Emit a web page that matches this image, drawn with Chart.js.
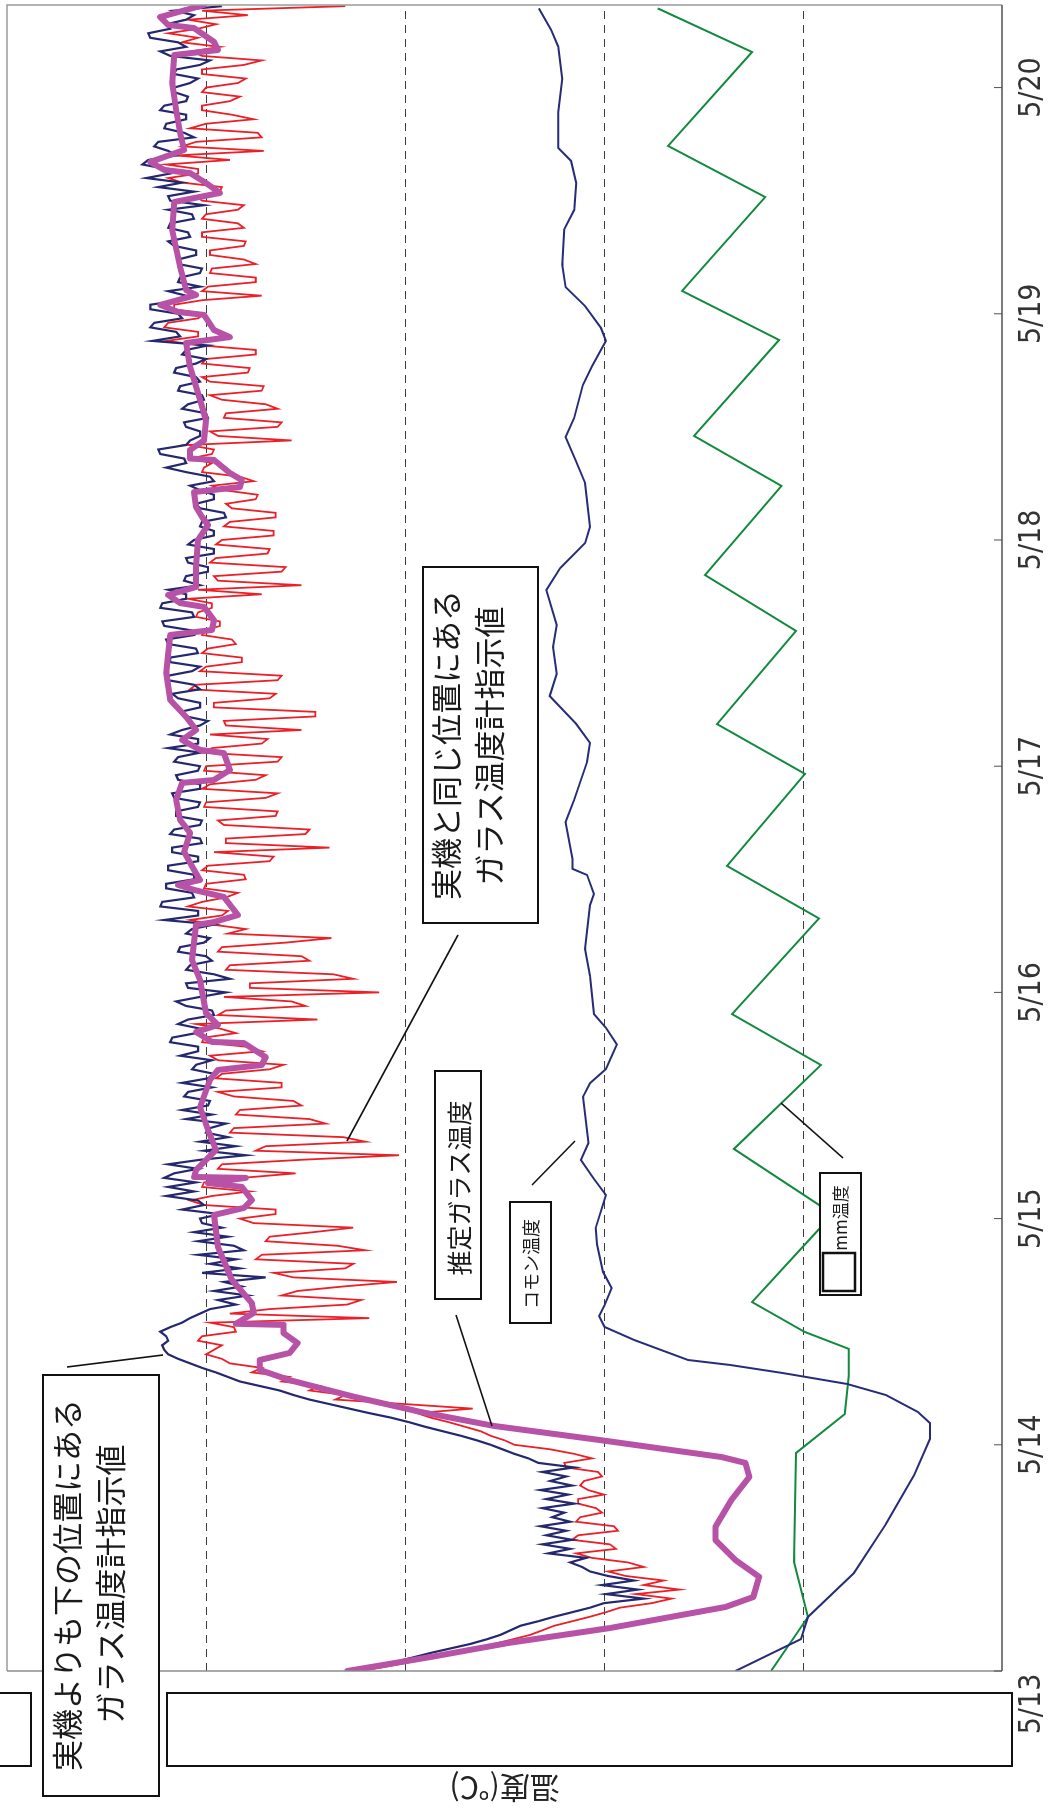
<!DOCTYPE html>
<html>
<head>
<meta charset="utf-8">
<script src="https://cdn.jsdelivr.net/npm/chart.js@4.4.1/dist/chart.umd.min.js"></script>
<style>
  html, body { margin: 0; padding: 0; background: #fff; overflow: hidden; width: 1052px; height: 1814px; }
  #wrap { position: relative; width: 1052px; height: 1814px; overflow: hidden; }
  /* the chart is laid out landscape and turned a quarter turn counter-clockwise onto the page */
  #c { position: absolute; left: 0; top: 0; transform-origin: 0 0; transform: translateY(1814px) rotate(-90deg); }
</style>
</head>
<body>
<div id="wrap"><canvas id="c" width="1814" height="1052"></canvas></div>
<script>
// ---- time axis (days since 5/13 0:00) ----
const dayLabels = ['5/13', '5/14', '5/15', '5/16', '5/17', '5/18', '5/19', '5/20'];
const timeMax = 7.365;
const tempTicks = [100, 200, 300, 400];

// ---- gauge readings, one sample every noisyStep days ----
const noisyStep = 0.02;
// 実機よりも下の位置にある ガラス温度計指示値
const lowerGauge = [
  330, 318, 305, 296, 287, 277, 267, 259, 252, 247, 242, 233, 225, 216, 207, 200, 180, 199, 183, 201,
  185, 198, 207, 211, 217, 209, 228, 217, 231, 216, 229, 219, 232, 217, 226, 220, 231, 215, 229, 218,
  232, 216, 227, 219, 231, 215, 233, 238, 245, 251, 257, 264, 272, 281, 290, 298, 307, 318, 328, 338,
  348, 356, 363, 373, 383, 389, 395, 402, 408, 414, 419, 421, 422, 419, 420, 423, 418, 412, 408, 403,
  398, 385, 394, 379, 396, 382, 391, 370, 402, 383, 398, 385, 404, 381, 386, 404, 389, 406, 392, 402,
  403, 393, 412, 401, 404, 420, 406, 419, 405, 421, 416, 404, 419, 403, 380, 401, 385, 403, 389, 400,
  398, 390, 410, 397, 412, 399, 398, 411, 409, 397, 412, 399, 396, 407, 405, 397, 413, 404, 404, 418,
  417, 405, 403, 414, 409, 396, 397, 410, 415, 403, 390, 409, 410, 388, 396, 410, 408, 397, 400, 414,
  413, 401, 398, 410, 407, 396, 421, 404, 404, 423, 422, 406, 407, 420, 420, 406, 406, 419, 419, 404,
  404, 417, 417, 402, 403, 418, 416, 403, 402, 415, 415, 404, 403, 416, 417, 403, 403, 414, 415, 404,
  403, 416, 414, 403, 419, 404, 404, 418, 412, 403, 399, 410, 413, 403, 403, 414, 417, 403, 406, 419,
  419, 407, 403, 418, 418, 404, 405, 419, 420, 406, 407, 421, 422, 406, 407, 423, 422, 410, 410, 419,
  403, 411, 410, 399, 399, 409, 410, 396, 396, 409, 406, 396, 396, 403, 402, 390, 391, 403, 405, 396,
  396, 403, 408, 396, 398, 410, 420, 410, 411, 423, 424, 410, 408, 403, 403, 410, 411, 399, 400, 412,
  409, 401, 402, 414, 413, 403, 405, 416, 415, 405, 400, 412, 410, 399, 427, 413, 415, 428, 426, 412,
  414, 428, 428, 413, 410, 419, 403, 414, 413, 403, 402, 414, 414, 405, 405, 416, 419, 408, 409, 419,
  418, 406, 407, 419, 401, 418, 419, 406, 424, 412, 430, 418, 420, 432, 429, 415, 419, 426, 424, 406,
  411, 421, 420, 410, 410, 423, 421, 410, 409, 416, 416, 408, 404, 416, 415, 403, 398, 418, 423, 410,
  414, 428, 429, 418, 420, 410, 406, 416, 392
];
// 実機と同じ位置にある ガラス温度計指示値
const sameGauge = [
  322, 309, 297, 288, 277, 266, 255, 246, 237, 231, 225, 216, 207, 199, 192, 176, 166, 184, 162, 180,
  170, 189, 198, 180, 188, 206, 214, 194, 197, 216, 213, 193, 195, 214, 212, 201, 204, 213, 213, 200,
  208, 212, 210, 201, 203, 219, 220, 206, 215, 227, 245, 250, 257, 262, 270, 278, 287, 294, 266, 300,
  335, 330, 348, 343, 362, 358, 377, 372, 388, 392, 400, 396, 392, 404, 402, 385, 386, 398, 318, 388,
  368, 329, 322, 362, 354, 331, 304, 356, 366, 330, 326, 375, 372, 320, 334, 370, 368, 346, 326, 376,
  383, 365, 365, 401, 408, 397, 378, 402, 401, 382, 355, 394, 392, 352, 303, 375, 370, 320, 331, 388,
  386, 340, 348, 385, 383, 352, 356, 386, 394, 362, 362, 395, 392, 368, 361, 394, 398, 372, 380, 402,
  401, 385, 393, 405, 344, 394, 390, 350, 357, 391, 313, 378, 378, 326, 336, 390, 388, 348, 352, 394,
  392, 360, 337, 389, 380, 397, 408, 392, 389, 409, 402, 390, 384, 401, 400, 380, 381, 402, 399, 368,
  366, 396, 338, 390, 390, 350, 348, 391, 394, 365, 364, 401, 400, 370, 364, 402, 398, 375, 370, 401,
  400, 364, 362, 402, 397, 372, 369, 398, 352, 390, 391, 345, 345, 396, 396, 368, 365, 408, 405, 364,
  362, 403, 400, 382, 382, 402, 399, 385, 387, 402, 401, 393, 393, 405, 404, 397, 397, 409, 372, 404,
  352, 394, 396, 362, 360, 398, 395, 369, 368, 395, 392, 366, 366, 391, 388, 365, 365, 387, 390, 375,
  374, 391, 397, 376, 383, 402, 401, 397, 408, 397, 396, 409, 357, 394, 398, 364, 362, 391, 390, 364,
  370, 392, 398, 372, 371, 398, 402, 379, 378, 402, 400, 375, 375, 402, 420, 404, 404, 421, 419, 404,
  401, 416, 416, 402, 372, 402, 399, 375, 375, 398, 397, 375, 381, 398, 398, 381, 380, 402, 402, 381,
  384, 402, 400, 384, 381, 402, 405, 393, 392, 412, 419, 404, 404, 420, 388, 415, 371, 412, 405, 372,
  374, 408, 400, 376, 387, 402, 402, 388, 383, 402, 400, 384, 380, 402, 402, 381, 372, 402, 407, 393,
  412, 404, 419, 404, 395, 409, 379, 402, 330
];

// ---- 推定ガラス温度 ----
const estTime = [
  0, 0.062, 0.124, 0.19, 0.283, 0.327, 0.416, 0.491, 0.579, 0.637,
  0.756, 0.858, 0.92, 0.946, 1.021, 1.083, 1.145, 1.211, 1.286, 1.331,
  1.375, 1.406, 1.45, 1.494, 1.53, 1.535, 1.583, 1.627, 1.729, 1.874,
  2.016, 2.047, 2.082, 2.14, 2.157, 2.18, 2.184, 2.215, 2.303, 2.392,
  2.493, 2.613, 2.657, 2.679, 2.714, 2.776, 2.781, 2.825, 2.856, 2.909,
  3.055, 3.143, 3.298, 3.311, 3.342, 3.422, 3.453, 3.475, 3.497, 3.541,
  3.621, 3.705, 3.762, 3.851, 3.926, 3.939, 3.983, 4.058, 4.072, 4.116,
  4.16, 4.218, 4.293, 4.412, 4.5, 4.58, 4.602, 4.646, 4.704, 4.721,
  4.757, 4.792, 4.881, 5.0, 5.066, 5.102, 5.146, 5.212, 5.234, 5.265,
  5.296, 5.354, 5.36, 5.398, 5.44, 5.529, 5.619, 5.765, 5.871, 5.897,
  5.928, 5.995, 6.008, 6.039, 6.083, 6.105, 6.207, 6.371, 6.494, 6.534,
  6.578, 6.622, 6.636, 6.671, 6.724, 6.799, 6.901, 7.02, 7.144, 7.166,
  7.202, 7.263, 7.277, 7.312, 7.365
];
const estTemp = [
  329, 287, 248, 197, 139, 125, 122, 134, 144, 144,
  136, 127, 129, 141, 202, 255, 292, 325, 358, 373,
  373, 358, 354, 361, 361, 385, 376, 377, 387, 394,
  396, 381, 377, 382, 399, 380, 406, 405, 395, 399,
  403, 398, 394, 372, 370, 381, 397, 405, 394, 400,
  403, 407, 405, 396, 384, 391, 406, 414, 403, 406,
  411, 408, 413, 415, 412, 396, 388, 391, 403, 412,
  405, 410, 418, 420, 419, 418, 397, 396, 401, 413,
  419, 405, 405, 404, 399, 402, 405, 406, 383, 382,
  388, 396, 408, 408, 401, 400, 403, 408, 410, 388,
  396, 401, 414, 423, 405, 410, 413, 417, 416, 393,
  400, 408, 421, 428, 411, 413, 415, 417, 416, 394,
  396, 406, 419, 423, 401
];

// ---- コモン温度 ----
const comTime = [
  0, 0.141, 0.239, 0.433, 0.65, 0.866, 1.026, 1.096, 1.145, 1.22,
  1.269, 1.317, 1.353, 1.375, 1.463, 1.521, 1.569, 1.618, 1.693, 1.764,
  1.886, 1.958, 2.104, 2.175, 2.259, 2.334, 2.538, 2.599, 2.661, 2.77,
  2.843, 2.904, 3.073, 3.192, 3.386, 3.435, 3.519, 3.546, 3.59, 3.753,
  3.851, 4.019, 4.103, 4.187, 4.31, 4.408, 4.527, 4.624, 4.779, 4.876,
  4.987, 5.058, 5.252, 5.347, 5.455, 5.539, 5.685, 5.769, 5.88, 5.937,
  6.034, 6.118, 6.216, 6.373, 6.459, 6.578, 6.676, 6.733, 6.892, 7.038,
  7.181, 7.255, 7.35
];
const comTemp = [
  134, 101, 97.5, 74.4, 58.3, 44.2, 36.2, 36.2, 42.2, 58.3,
  77.9, 110, 136.7, 157.8, 184.7, 199.7, 202.5, 199.7, 196.2, 200.5,
  203.5, 204.2, 199, 205, 211.6, 207.8, 210.6, 207, 199, 193.5,
  199, 205, 207, 209.5, 207, 205, 208.5, 215.8, 215.8, 219.3,
  215, 208.5, 207, 214, 227.3, 223.8, 225.6, 223.8, 229, 222,
  209.5, 207, 209.5, 214, 219.3, 215, 210.6, 206, 199, 201.5,
  209.5, 219.3, 221, 220, 215, 214, 216.6, 223, 223, 221,
  223, 226.6, 232.7
];

// ---- mm温度 ----
const mmTime = [
  0, 0.239, 0.482, 0.964, 1.136, 1.304, 1.424, 1.499, 1.631, 2.02,
  2.308, 2.679, 2.904, 3.327, 3.559, 3.966, 4.186, 4.598, 4.845, 5.239,
  5.46, 5.884, 6.101, 6.516, 6.742, 7.157, 7.35
];
const mmTemp = [
  116, 97.5, 104.5, 103.5, 79, 77, 77, 99.2, 125.6, 85,
  134.7, 91, 135.7, 92, 138.2, 99, 143.2, 103.5, 149.2, 110.8,
  154.8, 112, 160.8, 119, 167.8, 125.6, 173
];

const pairs = (ts, vs) => vs.map((v, i) => ({ x: ts[i], y: v }));
const sampled = vs => vs.map((v, i) => ({ x: i * noisyStep, y: v }));

const CJK = '"Noto Sans CJK JP", "Noto Sans CJK SC", sans-serif';
const NARROW = '"Liberation Sans Narrow", "DejaVu Sans Condensed", sans-serif';

// callout boxes: text lines are given as [text, u-centre, v-centre]
const callouts = [
  { box: [18, 43, 421, 116], font: 31, lines: [['実機よりも下の位置にある', 229, 67], ['ガラス温度計指示値', 230, 110]], leader: [447, 67, 459, 163] },
  { box: [891, 423, 356, 115], font: 31, lines: [['実機と同じ位置にある', 1069, 446], ['ガラス温度計指示値', 1068, 489]], leader: [879, 458, 673, 347] },
  { box: [515, 435, 228, 46], font: 25, lines: [['推定ガラス温度', 626, 459]], leader: [499, 456, 388, 492] },
  { box: [491, 510, 121, 41], font: 18, lines: [['コモン温度', 550, 531]], leader: [629, 532, 673, 575] },
  { box: [519, 820, 122, 41], font: 17, lines: [['mm温度', 596, 841]], leader: [656, 843, 711, 781], swatch: [523, 823, 38, 32] }
];

const decor = {
  id: 'decor',
  beforeDatasetsDraw(chart) {
    const { ctx, chartArea: a, scales: { y } } = chart;
    ctx.save();
    ctx.strokeStyle = '#3c3c3c';
    ctx.lineWidth = 1;
    ctx.setLineDash([8, 6]);
    tempTicks.forEach(v => {
      const py = Math.round(y.getPixelForValue(v)) + 0.5;
      ctx.beginPath(); ctx.moveTo(a.left, py); ctx.lineTo(a.right, py); ctx.stroke();
    });
    ctx.restore();
  },
  afterDraw(chart) {
    const { ctx, chartArea: a, scales: { x } } = chart;
    ctx.save();
    // plot frame
    ctx.lineWidth = 1.5;
    ctx.strokeStyle = '#9a9a9a';
    ctx.beginPath(); ctx.moveTo(a.left, a.top); ctx.lineTo(a.right, a.top); ctx.lineTo(a.right, a.bottom); ctx.stroke();
    ctx.strokeStyle = '#8c8c8c';
    ctx.beginPath(); ctx.moveTo(a.left, a.top); ctx.lineTo(a.left, a.bottom); ctx.stroke();
    ctx.strokeStyle = '#505050';
    ctx.beginPath(); ctx.moveTo(a.left, a.bottom); ctx.lineTo(a.right, a.bottom); ctx.stroke();
    // day ticks and labels
    ctx.lineWidth = 1;
    ctx.fillStyle = '#333';
    ctx.font = '30px ' + NARROW;
    ctx.textAlign = 'center';
    ctx.textBaseline = 'middle';
    dayLabels.forEach((lab, i) => {
      const px = x.getPixelForValue(i);
      ctx.beginPath(); ctx.moveTo(px, a.bottom); ctx.lineTo(px, a.bottom - 8); ctx.stroke();
      ctx.fillText(lab, i === 0 ? px - 33 : px, a.bottom + 30);
    });
    // blank panels over the temperature scale
    ctx.fillStyle = '#fff';
    ctx.strokeStyle = '#111';
    ctx.lineWidth = 2;
    [[48, -4, 73, 35], [48, 167, 73, 845]].forEach(r => {
      ctx.fillRect(r[0], r[1], r[2], r[3]);
      ctx.strokeRect(r[0], r[1], r[2], r[3]);
    });
    // axis title
    ctx.fillStyle = '#222';
    ctx.font = '30px ' + CJK;
    ctx.save();
    ctx.translate(26, (a.top + a.bottom) / 2);
    ctx.rotate(-Math.PI / 2);
    ctx.fillText('温度(℃)', 0, 0);
    ctx.restore();
    // callouts
    callouts.forEach(c => {
      ctx.strokeStyle = '#111';
      ctx.lineWidth = 1.6;
      ctx.beginPath(); ctx.moveTo(c.leader[0], c.leader[1]); ctx.lineTo(c.leader[2], c.leader[3]); ctx.stroke();
      const [bx, by, bw, bh] = c.box;
      ctx.fillStyle = '#fff';
      ctx.fillRect(bx, by, bw, bh);
      ctx.lineWidth = 2;
      ctx.strokeRect(bx, by, bw, bh);
      if (c.swatch) {
        ctx.lineWidth = 2.5;
        ctx.strokeRect(c.swatch[0], c.swatch[1], c.swatch[2], c.swatch[3]);
      }
      ctx.fillStyle = '#1a1a1a';
      ctx.font = c.font + 'px ' + CJK;
      c.lines.forEach(l => ctx.fillText(l[0], l[1], l[2]));
    });
    ctx.restore();
  }
};

new Chart(document.getElementById('c'), {
  type: 'line',
  data: {
    datasets: [
      { label: '推定ガラス温度', data: pairs(estTime, estTemp), borderColor: '#b752a6', borderWidth: 6, order: 0, borderJoinStyle: 'round', borderCapStyle: 'round' },
      { label: '実機よりも下の位置にあるガラス温度計指示値', data: sampled(lowerGauge), borderColor: '#24286e', borderWidth: 2.2, order: 1, borderJoinStyle: 'miter' },
      { label: '実機と同じ位置にあるガラス温度計指示値', data: sampled(sameGauge), borderColor: '#ec1f27', borderWidth: 1.8, order: 2, borderJoinStyle: 'miter' },
      { label: 'コモン温度', data: pairs(comTime, comTemp), borderColor: '#262c78', borderWidth: 2, order: 3 },
      { label: 'mm温度', data: pairs(mmTime, mmTemp), borderColor: '#128a3e', borderWidth: 2, order: 4 }
    ]
  },
  options: {
    responsive: false,
    animation: false,
    events: [],
    elements: { point: { radius: 0 }, line: { tension: 0, fill: false } },
    layout: { padding: { top: 7, right: 5, left: 0, bottom: 0 } },
    plugins: { legend: { display: false }, tooltip: { enabled: false }, title: { display: false } },
    scales: {
      x: {
        type: 'linear', min: 0, max: timeMax,
        ticks: { display: false }, grid: { display: false }, border: { display: false },
        afterFit: s => { s.height = 50; }
      },
      y: {
        type: 'linear', min: 0, max: 500,
        ticks: { display: false }, grid: { display: false }, border: { display: false },
        afterFit: s => { s.width = 143; }
      }
    }
  },
  plugins: [decor]
});
</script>
</body>
</html>
